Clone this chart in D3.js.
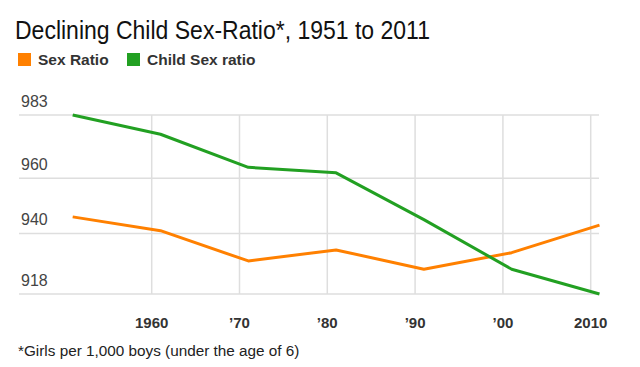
<!DOCTYPE html>
<html>
<head>
<meta charset="utf-8">
<script src="https://cdn.jsdelivr.net/npm/d3@7"></script>
<style>
  body { margin: 0; background: #fff; }
  svg { display: block; font-family: "Liberation Sans", Arial, Helvetica, sans-serif; }
</style>
</head>
<body>
<svg id="chart" width="640" height="367"></svg>
<script>
// Census years and values (girls per 1,000 boys)
const years = [1951, 1961, 1971, 1981, 1991, 2001, 2011];
const sexRatio = [946, 941, 930, 934, 927, 933, 943];
const childSexRatio = [983, 976, 964, 962, 945, 927, 918];

const yTicks = [983, 960, 940, 918];
const xTicks = [1960, 1970, 1980, 1990, 2000, 2010];
const xTickLabels = ['1960', '\u201970', '\u201980', '\u201990', '\u201900', '2010'];

const seriesNames = ['Sex Ratio', 'Child Sex ratio'];
const seriesColors = ['#ff8000', '#22a022'];

const svg = d3.select('#chart');

// Scales
const x = d3.scaleLinear().domain([1960, 2010]).range([151.7, 590.7]);
const y = d3.scaleLinear().domain([918, 983]).range([294, 115]);

// Title (original font is narrower, so squeeze it a bit)
svg.append('text')
  .attr('x', 15)
  .attr('y', 39)
  .attr('font-size', 25.5)
  .attr('fill', '#111')
  .attr('textLength', 415)
  .attr('lengthAdjust', 'spacingAndGlyphs')
  .text('Declining Child Sex-Ratio*, 1951 to 2011');

// Legend
const legend = svg.append('g');
const legendX = [18, 127];
seriesNames.forEach((name, i) => {
  legend.append('rect')
    .attr('x', legendX[i])
    .attr('y', 53)
    .attr('width', 13)
    .attr('height', 13)
    .attr('fill', seriesColors[i]);
  legend.append('text')
    .attr('x', legendX[i] + 20)
    .attr('y', 65)
    .attr('font-size', 15.5)
    .attr('font-weight', 'bold')
    .attr('fill', '#333')
    .text(name);
});

// Horizontal grid + y labels
const grid = svg.append('g');
grid.selectAll('line.h')
  .data(yTicks)
  .enter().append('line')
  .attr('class', 'h')
  .attr('x1', 19)
  .attr('x2', 599)
  .attr('y1', d => y(d))
  .attr('y2', d => y(d))
  .attr('stroke', '#dedede')
  .attr('stroke-width', 1.5);

grid.selectAll('text.ylab')
  .data(yTicks)
  .enter().append('text')
  .attr('class', 'ylab')
  .attr('x', 21)
  .attr('y', d => y(d) - 8)
  .attr('font-size', 16)
  .attr('fill', '#444')
  .text(d => d);

// Vertical grid
grid.selectAll('line.v')
  .data(xTicks)
  .enter().append('line')
  .attr('class', 'v')
  .attr('x1', d => x(d))
  .attr('x2', d => x(d))
  .attr('y1', y(983))
  .attr('y2', y(918))
  .attr('stroke', '#dedede')
  .attr('stroke-width', 1.5);

// X labels
grid.selectAll('text.xlab')
  .data(xTicks)
  .enter().append('text')
  .attr('class', 'xlab')
  .attr('x', d => x(d))
  .attr('y', 328)
  .attr('text-anchor', 'middle')
  .attr('font-size', 15)
  .attr('font-weight', 'bold')
  .attr('fill', '#333')
  .text((d, i) => xTickLabels[i]);

// Lines
const line = d3.line()
  .x((d, i) => x(years[i]))
  .y(d => y(d));

[sexRatio, childSexRatio].forEach((values, i) => {
  svg.append('path')
    .datum(values)
    .attr('d', line)
    .attr('fill', 'none')
    .attr('stroke', seriesColors[i])
    .attr('stroke-width', 3)
    .attr('stroke-linejoin', 'round');
});

// Footnote
svg.append('text')
  .attr('x', 18)
  .attr('y', 356)
  .attr('font-size', 15.3)
  .attr('fill', '#222')
  .text('*Girls per 1,000 boys (under the age of 6)');
</script>
</body>
</html>
